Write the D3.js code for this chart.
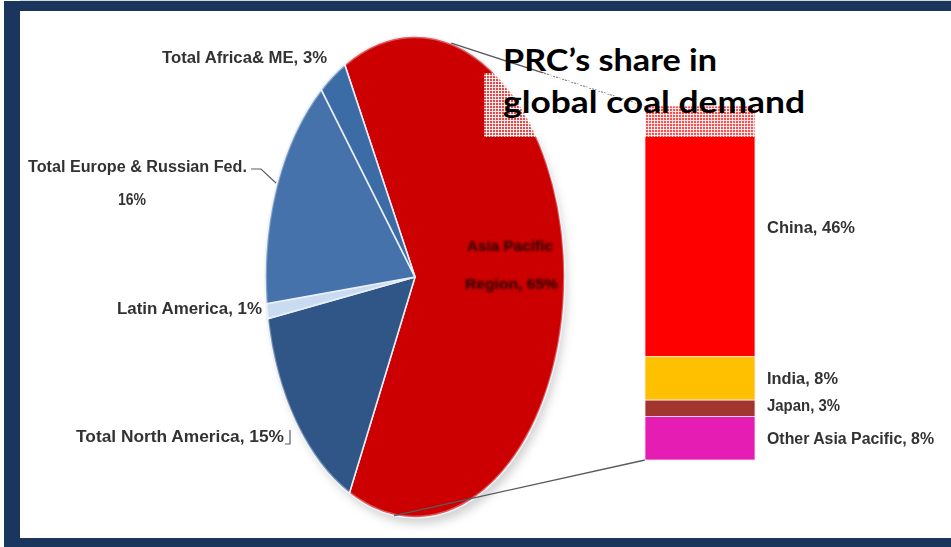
<!DOCTYPE html>
<html>
<head>
<meta charset="utf-8">
<script src="https://cdn.jsdelivr.net/npm/d3@7/dist/d3.min.js"></script>
<style>
  html, body { margin: 0; padding: 0; background: #ffffff; }
  svg { display: block; }
</style>
</head>
<body>
<svg id="chart" width="951" height="547"></svg>
<script>
// Global coal demand by region, with the Asia Pacific slice broken out by country
const regions = ["Asia Pacific Region", "Total North America", "Latin America", "Total Europe & Russian Fed.", "Total Africa& ME"];
const regionShares = [65, 15, 1, 16, 3];
const regionColors = ["#cc0000", "#2f5687", "#c9dbf0", "#4572aa", "#3b6ca6"];

const asiaParts = ["China", "India", "Japan", "Other Asia Pacific"];
const asiaShares = [46, 8, 3, 8];
const asiaColors = ["#ff0000", "#ffc000", "#a2362f", "#e51db3"];

const titleLines = ["PRC\u2019s share in", "global coal demand"];

const W = 951, H = 547;
const svg = d3.select("#chart");
const defs = svg.append("defs");

// soft edge for the small labels
defs.append("filter").attr("id", "soft").attr("x", "-5%").attr("y", "-20%").attr("width", "110%").attr("height", "140%")
  .append("feGaussianBlur").attr("stdDeviation", 0.55);
defs.append("filter").attr("id", "softer").attr("x", "-5%").attr("y", "-20%").attr("width", "110%").attr("height", "140%")
  .append("feGaussianBlur").attr("stdDeviation", 0.9);
defs.append("filter").attr("id", "shadow").attr("x", "-20%").attr("y", "-50%").attr("width", "140%").attr("height", "200%")
  .append("feGaussianBlur").attr("stdDeviation", 5);

// fine white grid behind the title
const pat = defs.append("pattern").attr("id", "grid")
  .attr("patternUnits", "userSpaceOnUse").attr("width", 3).attr("height", 3);
pat.append("rect").attr("width", 3).attr("height", 3).attr("fill", "#ffffff").attr("fill-opacity", 0.3);
pat.append("path").attr("d", "M0,0.5H3M0.5,0V3").attr("stroke", "#ffffff").attr("stroke-width", 1).attr("stroke-opacity", 0.85);

// outer frame
svg.append("rect").attr("x", 0).attr("y", 0).attr("width", W).attr("height", H).attr("fill", "#ffffff");
svg.append("rect").attr("x", 20).attr("y", 0).attr("width", W - 20).attr("height", 1).attr("fill", "#d8d8d8");
svg.append("rect").attr("x", 4).attr("y", 1).attr("width", W - 4).attr("height", 10).attr("fill", "#1b365c");
svg.append("rect").attr("x", 4).attr("y", 1).attr("width", 16).attr("height", H - 1).attr("fill", "#1b365c");
svg.append("rect").attr("x", 4).attr("y", 538).attr("width", W - 4).attr("height", 9).attr("fill", "#1b365c");

// ---------- pie (drawn as an upright ellipse) ----------
const cx = 415, cy = 277, rx = 150, ry = 241;
const deg = Math.PI / 180;
const startA = -28 * deg;

const pie = d3.pie().sort(null).value(d => d).startAngle(startA).endAngle(startA + 2 * Math.PI);
const arcs = pie(regionShares);
const arc = d3.arc().innerRadius(0).outerRadius(ry);

// shadow under the pie
svg.append("ellipse").attr("cx", cx + 4).attr("cy", cy + 8).attr("rx", rx - 2).attr("ry", ry - 2)
  .attr("fill", "#9a9a9a").attr("opacity", 0.45).attr("filter", "url(#shadow)");

const pieG = svg.append("g").attr("transform", `translate(${cx},${cy}) scale(${rx / ry},1)`);
pieG.selectAll("path.slice").data(arcs).join("path")
  .attr("class", "slice")
  .attr("d", arc)
  .attr("fill", (d, i) => regionColors[i])
  .attr("stroke", "#e9eff8")
  .attr("stroke-width", 1.6)
  .attr("vector-effect", "non-scaling-stroke");
// light rim
pieG.append("circle").attr("r", ry - 1).attr("fill", "none")
  .attr("stroke", "#ffffff").attr("stroke-opacity", 0.35).attr("stroke-width", 2.5)
  .attr("vector-effect", "non-scaling-stroke");

// point on the ellipse rim for an angle (0 = top, clockwise)
function rim(a) {
  return [cx + rx * Math.sin(a), cy - ry * Math.cos(a)];
}

// ---------- stacked bar for the Asia Pacific breakdown ----------
const barX = 645, barW = 110;
const y = d3.scaleLinear().domain([0, d3.sum(asiaShares)]).range([460, 106]);
// China sits on top, so stack from the top downwards
const topDown = [];
let acc = d3.sum(asiaShares);
asiaShares.forEach((v, i) => { topDown.push({ name: asiaParts[i], v, hi: acc, lo: acc - v, c: asiaColors[i] }); acc -= v; });

// connector lines from the Asia Pacific slice to the bar
const pTop = rim(14 * deg);
const pBot = rim(188 * deg);
svg.append("line").attr("x1", pTop[0]).attr("y1", pTop[1]).attr("x2", barX).attr("y2", y(d3.sum(asiaShares)))
  .attr("stroke", "#555b60").attr("stroke-width", 1.3);
svg.append("line").attr("x1", pBot[0]).attr("y1", pBot[1]).attr("x2", barX).attr("y2", y(0))
  .attr("stroke", "#555b60").attr("stroke-width", 1.3);

svg.selectAll("rect.seg").data(topDown).join("rect")
  .attr("class", "seg")
  .attr("x", barX).attr("width", barW)
  .attr("y", d => y(d.hi)).attr("height", d => y(d.lo) - y(d.hi))
  .attr("fill", d => d.c)
  .attr("stroke", "#ffe8f0").attr("stroke-width", 0.8);

// ---------- labels ----------
const labelFont = "'Liberation Sans Narrow', 'Liberation Sans', Arial, sans-serif";
const lab = svg.append("g").attr("filter", "url(#soft)")
  .attr("font-family", labelFont).attr("font-weight", "bold").attr("font-size", 16).attr("fill", "#333333");

function put(g, text, x, yb, len, anchor) {
  return g.append("text").attr("x", x).attr("y", yb).attr("text-anchor", anchor || "start")
    .attr("textLength", len).attr("lengthAdjust", "spacingAndGlyphs").text(text);
}

const pct = i => `${regionShares[i]}%`;
put(lab, `${regions[4]}, ${pct(4)}`, 162, 63, 165);
put(lab, `${regions[3]}`, 28, 172, 219);
put(lab, pct(3), 118, 205, 28);
put(lab, `${regions[2]}, ${pct(2)}`, 117, 314, 145);
put(lab, `${regions[1]}, ${pct(1)}`, 76, 442, 208);

// leader lines for the outside labels
const lead = svg.append("g").attr("fill", "none").attr("stroke", "#5a5f66").attr("stroke-width", 1.2).attr("filter", "url(#soft)");
lead.append("path").attr("d", "M251,169 L261,169 L276,183");
lead.append("path").attr("d", "M285,444 L290,444 L290,430");

// text inside the Asia Pacific slice
const apWords = regions[0].split(" ");
const inner = svg.append("g").attr("filter", "url(#softer)")
  .attr("font-family", labelFont).attr("font-weight", "bold").attr("font-size", 15).attr("fill", "#2b0505");
put(inner, `${apWords[0]} ${apWords[1]}`, 467, 251, 86);
put(inner, `${apWords[2]}, ${pct(0)}`, 465, 289, 93);

// bar segment labels
const barLabelPos = [[233, 88], [384, 71], [411, 73], [444, 167]];
topDown.forEach((d, i) => {
  put(lab, `${d.name}, ${d.v}%`, 767, barLabelPos[i][0], barLabelPos[i][1]);
});

// ---------- title over a gridded backdrop ----------
svg.append("rect").attr("x", 484).attr("y", 73).attr("width", 276).attr("height", 64).attr("fill", "url(#grid)");
const title = svg.append("g").attr("font-family", "Lato, 'Open Sans', sans-serif").attr("font-weight", "bold")
  .attr("font-size", 31).attr("fill", "#000000");
put(title, titleLines[0], 503, 71, 214);
put(title, titleLines[1], 503, 113, 302);
</script>
</body>
</html>
